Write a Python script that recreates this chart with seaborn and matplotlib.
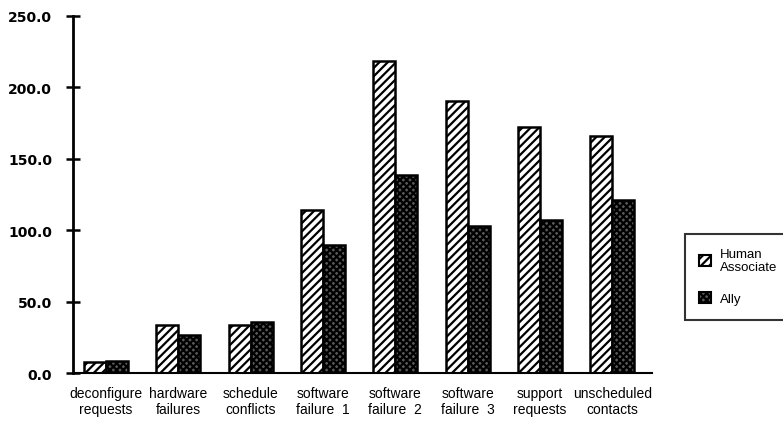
import matplotlib
matplotlib.use("Agg")
import matplotlib.pyplot as plt
import seaborn as sns
import pandas as pd
from matplotlib.patches import Patch

categories = ["deconfigure\nrequests", "hardware\nfailures", "schedule\nconflicts",
              "software\nfailure  1", "software\nfailure  2", "software\nfailure  3",
              "support\nrequests", "unscheduled\ncontacts"]
human = [7.5, 33.7, 33.7, 114.0, 218.5, 190.5, 172.0, 165.7]
ally = [8.6, 26.5, 35.8, 89.6, 138.5, 102.9, 107.0, 121.0]
series = ["Human Associate", "Ally"]
yticks = [0, 50, 100, 150, 200, 250]

df = pd.DataFrame({
    "category": categories * 2,
    "value": human + ally,
    "series": [series[0]] * len(categories) + [series[1]] * len(categories),
})

sns.set_style("white")
plt.rcParams["font.family"] = ["Liberation Sans", "DejaVu Sans"]
plt.rcParams["hatch.linewidth"] = 1.6
plt.rcParams["text.color"] = "black"
plt.rcParams["xtick.color"] = "black"
plt.rcParams["ytick.color"] = "black"

fig = plt.figure(figsize=(7.83, 4.27), dpi=100)
ax = fig.add_axes([0.0932, 0.1241, 0.7395, 0.8361])

sns.barplot(data=df, x="category", y="value", hue="series", order=categories,
            hue_order=series, width=0.61, ax=ax, legend=False,
            errorbar=None, saturation=1)

ally_face = "#5a5a5a"
styles = [dict(facecolor="white", hatch="////"),
          dict(facecolor=ally_face, hatch="xxxxx")]
for cont, st in zip(ax.containers, styles):
    for bar in cont:
        bar.set_facecolor(st["facecolor"])
        bar.set_hatch(st["hatch"])
        bar.set_edgecolor("black")
        bar.set_linewidth(1.8)

ax.set_xlim(-0.456, 7.55)
ax.set_ylim(0, 250)
ax.set_yticks(yticks)
ax.set_yticklabels([f"{v:.1f}" for v in yticks], fontsize=10, fontweight="bold",
                   family=["DejaVu Sans"], color="black")
ax.tick_params(axis="y", left=True, direction="inout", length=10, width=1.8,
               pad=10, colors="black")
ax.tick_params(axis="x", bottom=False, length=0, pad=9, labelsize=10,
               labelcolor="black")
ax.set_xlabel("")
ax.set_ylabel("")
sns.despine(ax=ax)
ax.spines["left"].set_linewidth(2)
ax.spines["bottom"].set_linewidth(1.5)
ax.spines["left"].set_color("black")
ax.spines["bottom"].set_color("black")

handles = [Patch(facecolor="white", edgecolor="black", hatch="////", linewidth=1.5),
           Patch(facecolor=ally_face, edgecolor="black", hatch="xxxxx", linewidth=1.5)]
leg = fig.legend(handles, ["Human\nAssociate", "Ally"], loc="upper left",
                 bbox_to_anchor=(0.866, 0.466), frameon=True, fancybox=False,
                 fontsize=9.5, handlelength=0.9, handleheight=0.9,
                 labelspacing=1.5, borderpad=1.1, handletextpad=0.7)
leg.get_frame().set_edgecolor("black")
leg.get_frame().set_linewidth(1.5)
for t in leg.get_texts():
    t.set_color("black")
    t.set_linespacing(1.05)

fig.savefig("out.png", dpi=100)
